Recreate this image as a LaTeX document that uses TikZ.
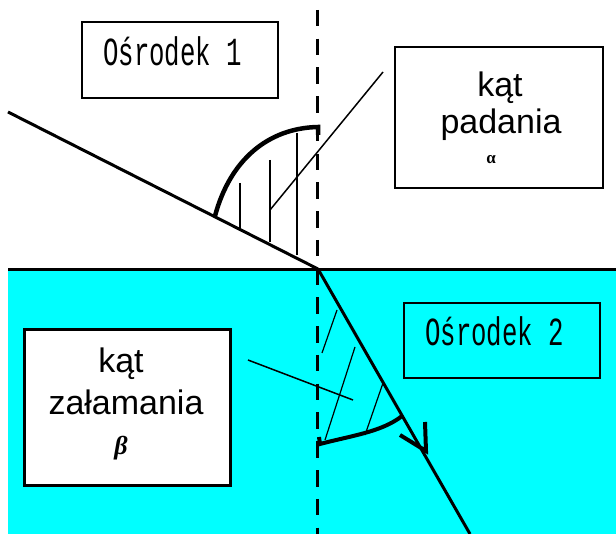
\documentclass[tikz,border=0pt]{standalone}
\usepackage{fontspec}
\setmainfont{Liberation Sans}
\newfontfamily\monof{Liberation Mono}
\newfontfamily\seriff{Liberation Serif}
\definecolor{aqua}{RGB}{0,255,255}
\begin{document}
\begin{tikzpicture}[x=1pt,y=-1pt,
  box/.style={draw=black, inner sep=0pt, fill=white},
  ray/.style={line width=3pt},
  hatch/.style={line width=1.4pt},
  arcline/.style={line width=4.5pt},
  pointer/.style={line width=1.5pt},
  sanslbl/.style={inner sep=0pt, anchor=base, font=\fontsize{34}{34}\selectfont},
  monolbl/.style={inner sep=0pt, anchor=base west, font=\monof\fontsize{25.7}{26}\selectfont}
]
\useasboundingbox (0,0) rectangle (616,534);
% lower medium
\fill[aqua] (8,271) rectangle (616,534);
% coordinates
\coordinate (L) at (8,270);
\coordinate (R) at (616,270);
\coordinate (P) at (318,269);
\coordinate (inA) at (8,112);
\coordinate (outB) at (470,534);
\coordinate (dTop) at (317,10);
\coordinate (dBot) at (317,534);
% interface and normal
\draw[line width=3pt] (L) -- (R);
\draw[line width=3pt, dash pattern=on 16.5pt off 12.25pt] (dTop) -- (dBot);
% rays
\draw[ray] (inA) -- (P);
\draw[ray] (P) -- (outB);
% arrow on refracted ray
\coordinate (tip) at (426,451);
\coordinate (armA) at (425,422);
\coordinate (armB) at (400,435);
\draw[line width=4pt, line join=miter] (armA) -- (tip) -- (armB);
% angle of incidence
\coordinate (a1) at (215,216);
\coordinate (a2) at (318,127);
\draw[arcline] (a1) .. controls (230,160) and (268,128) .. (a2) -- (318,135);
\draw[hatch] (240,183) -- (240,228);
\draw[hatch] (270,160) -- (270,242);
\draw[hatch] (297,133) -- (297,255);
% angle of refraction
\coordinate (b1) at (320,444);
\coordinate (b2) at (402,416);
\draw[line width=4pt] (319,437) -- (b1) .. controls (350,436) and (382,432) .. (b2);
\draw[line width=1.2pt] (337,310) -- (322,353);
\draw[line width=1.2pt] (355,347) -- (325,440);
\draw[line width=1.2pt] (383,383) -- (365,435);
% boxes
\node[box, line width=1.5pt, minimum width=196pt, minimum height=76pt] (o1) at (180,60) {};
\node[box, line width=2.5pt, minimum width=208pt, minimum height=141pt] (kp) at (499,117.5) {};
\node[box, line width=3pt, minimum width=206pt, minimum height=155pt] (kz) at (127,407.5) {};
\node[box, fill=aqua, line width=1.5pt, minimum width=196pt, minimum height=75pt] (o2) at (502,340.5) {};
% pointers
\coordinate (pA) at (270,210);
\coordinate (pAend) at (383,72);
\draw[pointer] (pA) -- (pAend);
\coordinate (pB) at (248,360);
\coordinate (pBend) at (353,400);
\draw[pointer] (pB) -- (pBend);
% texts
\node[monolbl] (t1) at (103,66) {\scalebox{1}[1.55]{Ośrodek 1}};
\node[monolbl] (t2) at (425,346) {\scalebox{1}[1.55]{Ośrodek 2}};
\node[sanslbl] (k1) at (500,97) {kąt};
\node[sanslbl] (k2) at (501,134) {padania};
\node[inner sep=0pt, anchor=base, font=\seriff\bfseries\fontsize{17}{17}\selectfont] (al) at (491,164) {α};
\node[sanslbl] (k3) at (121,373) {kąt};
\node[sanslbl] (k4) at (126,415) {załamania};
\node[inner sep=0pt, anchor=base, font=\seriff\bfseries\itshape\fontsize{26}{26}\selectfont] (be) at (121,454) {β};
\end{tikzpicture}
\end{document}
